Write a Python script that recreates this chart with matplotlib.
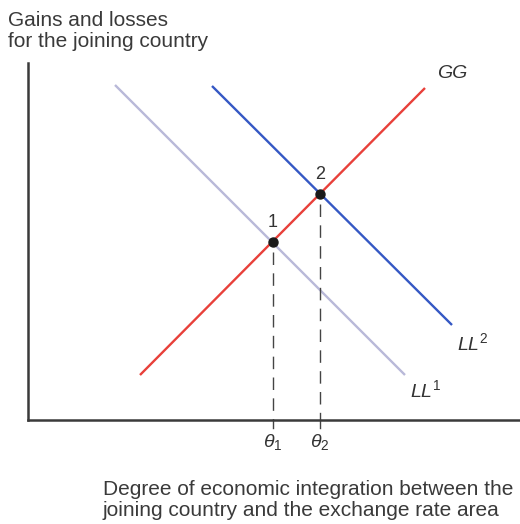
import matplotlib
matplotlib.use("Agg")
import matplotlib.pyplot as plt

plt.rcParams['font.family'] = ['Liberation Sans', 'DejaVu Sans']
plt.rcParams['mathtext.fontset'] = 'custom'
plt.rcParams['mathtext.it'] = 'Liberation Sans:italic'
plt.rcParams['mathtext.rm'] = 'Liberation Sans'

# Curve endpoints (schematic data units)
gg_x = [112, 397]
gg_y = [45, 332]
ll1_x = [87, 377]
ll1_y = [335, 45]
ll2_x = [184, 424]
ll2_y = [334, 95]
# Equilibria
eq_x = [245, 292]
eq_y = [178, 226]
eq_labels = ["1", "2"]
theta_labels = [r"$\theta_1$", r"$\theta_2$"]

W, H = 520, 524
fig = plt.figure(figsize=(W / 100, H / 100), dpi=100)
ax_left, ax_bottom = 28, 420
ax_right, ax_top = 520, 63
ax = fig.add_axes([ax_left / W, 1 - ax_bottom / H,
                   (ax_right - ax_left) / W, (ax_bottom - ax_top) / H])
ax.set_xlim(0, ax_right - ax_left)
ax.set_ylim(0, ax_bottom - ax_top)
for s in ['top', 'right']:
    ax.spines[s].set_visible(False)
for s in ['left', 'bottom']:
    ax.spines[s].set_color('#3a3a3a')
    ax.spines[s].set_linewidth(1.8)
ax.set_xticks([])
ax.set_yticks([])

red = '#e8403a'
blue = '#3558c4'
light = '#b9b9d9'

ax.plot(ll1_x, ll1_y, color=light, lw=1.7, solid_capstyle='butt')
ax.plot(ll2_x, ll2_y, color=blue, lw=1.7, solid_capstyle='butt')
ax.plot(gg_x, gg_y, color=red, lw=1.7, solid_capstyle='butt')

for x, y, lab, th in zip(eq_x, eq_y, eq_labels, theta_labels):
    ax.plot([x, x], [y - 10, 0], color='#444444', lw=1.0,
            linestyle=(0, (9, 6)))
    ax.plot([x, x], [0, -8], color='#444444', lw=1.0, clip_on=False)
    ax.plot([x], [y], marker='o', ms=6.5, color='#1a1a1a', zorder=5)
    ax.text(x, y + 11, lab, ha='center', va='bottom', fontsize=13, color='#333333')
    ax.text(x, -12, th, ha='center', va='top', fontsize=14, color='#333333')

ax.text(409, 346, "GG", fontsize=14, style='italic', color='#333333',
        ha='left', va='center')
ax.text(429, 77, r"$LL^2$", fontsize=14, color='#333333', ha='left', va='center')
ax.text(382, 30, r"$LL^1$", fontsize=14, color='#333333', ha='left', va='center')

fig.text(8 / W, 1 - 11 / H, "Gains and losses\nfor the joining country",
         ha='left', va='top', fontsize=15, color='#3a3a3a', linespacing=1.12)
fig.text(513 / W, 1 - 480 / H,
         "Degree of economic integration between the\njoining country and the exchange rate area",
         ha='right', va='top', fontsize=15, color='#3a3a3a', linespacing=1.12,
         multialignment='left')

fig.savefig("out.png", dpi=100, facecolor='white')
